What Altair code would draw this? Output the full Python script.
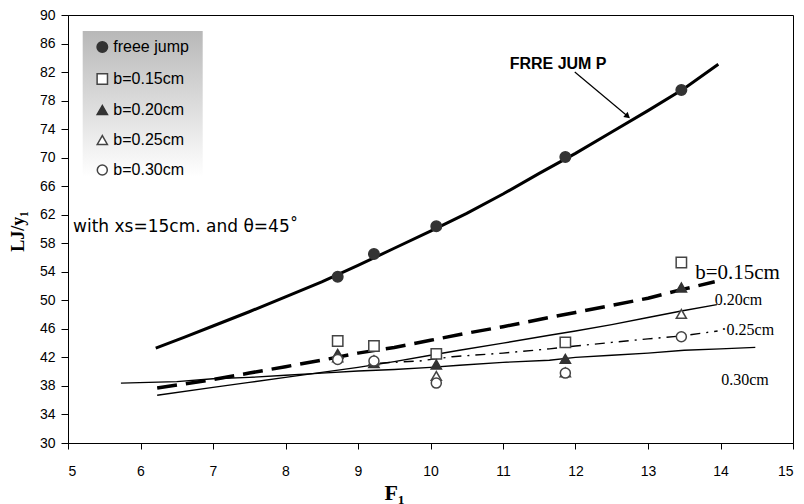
import altair as alt
import pandas as pd

# ---------------- data ----------------
series_names = ["freee jump", "b=0.15cm", "b=0.20cm", "b=0.25cm", "b=0.30cm"]
froude = [8.72, 9.22, 10.08, 11.86, 13.46]
y_free = [53.3, 56.5, 60.4, 70.1, 79.5]
y_b015 = [44.3, 43.6, 42.5, 44.1, 55.3]
y_b020 = [42.5, 41.2, 41.0, 41.8, 51.8]
y_b025 = [42.0, 41.6, 39.4, 39.9, 48.1]
y_b030 = [41.7, 41.5, 38.4, 39.8, 44.9]

# fitted curves
fit_free_x = [6.21, 6.6, 7.0, 7.5, 8.0, 8.5, 9.0, 9.5, 10.0, 10.5, 11.0, 11.5, 12.0, 12.5, 13.0, 13.5, 13.97]
fit_free_y = [43.3, 44.8, 46.4, 48.4, 50.5, 52.6, 54.9, 57.3, 59.7, 62.2, 64.9, 67.8, 70.6, 73.6, 76.6, 79.7, 83.1]
fit_015_x = [6.23, 7.0, 7.5, 8.0, 8.5, 9.0, 9.5, 10.0, 10.5, 11.0, 11.64, 12.0, 12.5, 13.0, 13.46, 13.92]
fit_015_y = [37.7, 38.9, 39.8, 40.7, 41.6, 42.6, 43.4, 44.4, 45.4, 46.3, 47.6, 48.3, 49.3, 50.3, 51.5, 52.6]
fit_020_x = [6.23, 7.0, 7.5, 8.0, 8.5, 9.0, 9.5, 10.0, 10.4, 11.0, 11.64, 12.0, 12.5, 13.0, 13.46, 13.95]
fit_020_y = [36.7, 37.8, 38.5, 39.2, 39.9, 40.6, 41.4, 42.3, 43.0, 44.0, 45.1, 45.7, 46.6, 47.6, 48.5, 49.4]
fit_025_x = [9.3, 9.85, 10.3, 11.0, 11.64, 12.0, 12.5, 13.0, 13.46, 13.96]
fit_025_y = [41.2, 41.5, 42.1, 42.6, 43.2, 43.6, 44.1, 44.6, 45.0, 45.7]
fit_030_x = [5.73, 6.5, 7.0, 7.5, 8.0, 8.5, 9.0, 9.5, 10.0, 10.4, 11.0, 11.64, 12.0, 12.5, 13.0, 13.5, 14.0, 14.48]
fit_030_y = [38.4, 38.6, 39.0, 39.2, 39.5, 39.8, 40.1, 40.3, 40.6, 40.9, 41.3, 41.6, 42.0, 42.3, 42.6, 43.0, 43.2, 43.4]

x_ticks = list(range(5, 16))
y_ticks = list(range(30, 91, 4))

# ---------------- shared encodings ----------------
FONT = "Liberation Sans"
SERIF = "Liberation Serif"
xscale = alt.Scale(domain=[5, 15], nice=False, zero=False)
yscale = alt.Scale(domain=[30, 90], nice=False, zero=False)
xaxis = alt.Axis(values=x_ticks, title="F₁", grid=False, tickSize=6, labelPadding=15,
                 labelFont=FONT, labelFontSize=14, labelColor="black",
                 titleFont=SERIF, titleFontSize=22, titleFontWeight="bold", titleColor="black",
                 titleX=326, titleY=56, titleAlign="center", titleBaseline="alphabetic",
                 domainColor="black", tickColor="black")
yaxis = alt.Axis(values=y_ticks, title="LJ/y₁", grid=False, tickSize=7, labelPadding=6,
                 labelFont=FONT, labelFontSize=14, labelColor="black",
                 titleFont=SERIF, titleFontSize=18, titleFontWeight="bold", titleColor="black",
                 titleX=-50, titleY=216, titleAngle=270, titleAlign="center", titleBaseline="middle",
                 domainColor="black", tickColor="black")


def X():
    return alt.X("x:Q", scale=xscale, axis=xaxis)


def Y():
    return alt.Y("y:Q", scale=yscale, axis=yaxis)


# ---------------- legend background ----------------
grad = alt.LinearGradient(gradient="linear", x1=0, y1=0, x2=0, y2=1,
                          stops=[alt.GradientStop(color="#b8b8b8", offset=0),
                                 alt.GradientStop(color="#ffffff", offset=1)])
bg = alt.Chart(alt.Data(values=[{}])).mark_rect(fill=grad).encode(
    x=alt.value(14.7), x2=alt.value(134.7), y=alt.value(16), y2=alt.value(161.7))

# ---------------- lines ----------------
def line_layer(xs, ys, width, dash=None):
    df = pd.DataFrame({"x": xs, "y": ys})
    kw = dict(color="black", strokeWidth=width, clip=True)
    if dash:
        kw["strokeDash"] = dash
    return alt.Chart(df).mark_line(**kw).encode(x=X(), y=Y())

lines = [
    line_layer(fit_free_x, fit_free_y, 3),
    line_layer(fit_015_x, fit_015_y, 3.5, [20, 9]),
    line_layer(fit_020_x, fit_020_y, 1.4),
    line_layer(fit_025_x, fit_025_y, 1.4, [10, 6, 2, 6]),
    line_layer(fit_030_x, fit_030_y, 1.4),
]

# ---------------- points ----------------
rows = []
for name, ys in zip(series_names, [y_free, y_b015, y_b020, y_b025, y_b030]):
    for xv, yv in zip(froude, ys):
        rows.append({"x": xv, "y": yv, "series": name})
pts_df = pd.DataFrame(rows)

legend = alt.Legend(title=None, orient="none", legendX=26.3, legendY=24, padding=0,
                    rowPadding=14, labelFontSize=16, labelFont=FONT, labelColor="black",
                    labelOffset=3, symbolStrokeWidth=1.5, symbolOpacity=1, zindex=1)
points = alt.Chart(pts_df).mark_point(filled=True, strokeWidth=1.5, opacity=1).encode(
    x=X(), y=Y(),
    shape=alt.Shape("series:N", scale=alt.Scale(domain=series_names,
                    range=["circle", "square", "triangle-up", "triangle-up", "circle"]), legend=legend),
    fill=alt.Fill("series:N", scale=alt.Scale(domain=series_names,
                  range=["#333333", "white", "#333333", "white", "white"]), legend=legend),
    stroke=alt.Stroke("series:N", scale=alt.Scale(domain=series_names,
                      range=["#333333", "#444444", "#333333", "#444444", "#444444"]), legend=legend),
    size=alt.Size("series:N", scale=alt.Scale(domain=series_names,
                  range=[110, 100, 130, 45, 120]), legend=legend),
)

# ---------------- annotations ----------------
ann_fj = alt.Chart(pd.DataFrame({"x": [11.76], "y": [82.4], "t": ["FRRE JUM P"]})).mark_text(
    font=FONT, fontSize=16, fontWeight="bold", align="center", baseline="alphabetic",
    color="black").encode(x=X(), y=Y(), text="t:N")
arrow_df = pd.DataFrame({"x": [11.99], "y": [82.0], "x2": [12.72], "y2": [75.8]})
arrow = alt.Chart(arrow_df).mark_rule(color="black", strokeWidth=1.2).encode(
    x=X(), y=Y(), x2="x2:Q", y2="y2:Q")
head = alt.Chart(pd.DataFrame({"x": [12.72], "y": [75.8]})).mark_point(
    shape="triangle-up", angle=130, size=45, filled=True, color="black", opacity=1).encode(x=X(), y=Y())

cond = alt.Chart(pd.DataFrame({"x": [5.07], "y": [59.55], "t": ["with xs=15cm. and  θ=45˚"]})).mark_text(
    font="DejaVu Sans", fontSize=17, align="left", baseline="alphabetic", color="black").encode(
    x=X(), y=Y(), text="t:N")

lab_x = [13.65, 13.92, 14.01, 14.01]
lab_y = [53.0, 49.3, 45.1, 38.1]
lab_t = ["b=0.15cm", "0.20cm", "·0.25cm", "0.30cm"]
lab_s = [21, 16, 16, 16]
lab_df = pd.DataFrame({"x": lab_x, "y": lab_y, "t": lab_t, "s": lab_s})
labels = alt.Chart(lab_df).mark_text(font=SERIF, align="left", baseline="alphabetic", color="black").encode(
    x=X(), y=Y(), text="t:N", size=alt.Size("s:Q", scale=None, legend=None))

chart = alt.layer(bg, *lines, points, arrow, head, ann_fj, cond, labels).properties(
    width=725, height=428,
    autosize=alt.AutoSizeParams(type="none"),
    padding={"left": 60, "top": 7, "right": 3, "bottom": 70},
).configure_view(stroke="black", strokeWidth=1).configure_axis(domainWidth=1, tickWidth=1)

chart.save("out.html", embed_options={"renderer": "svg", "actions": False})
